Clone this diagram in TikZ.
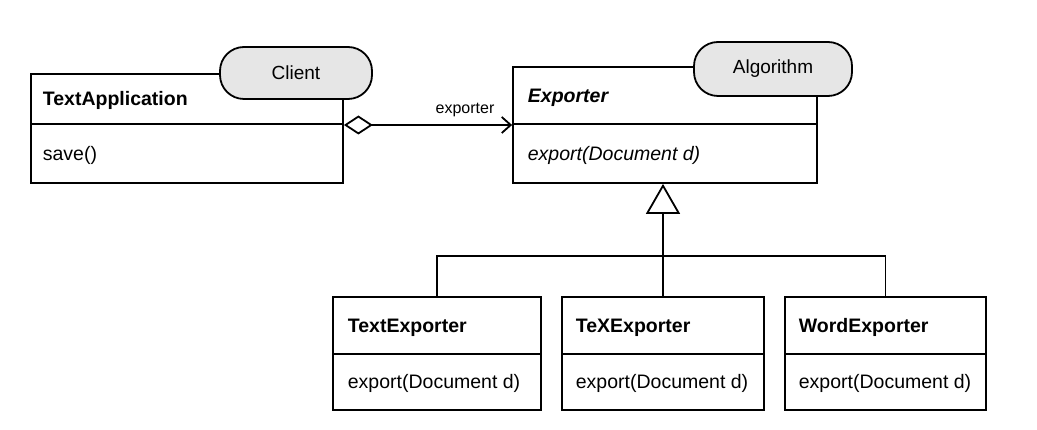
\documentclass[tikz,border=0pt]{standalone}
\usepackage{fontspec}
\setmainfont{Liberation Sans}
\usetikzlibrary{arrows.meta}
\definecolor{tagfill}{HTML}{E6E6E6}
\begin{document}
\begin{tikzpicture}[x=1pt,y=-1pt, line width=1.8pt,
  box/.style={draw, rectangle, inner sep=0pt, fill=white},
  tagbox/.style={draw, fill=tagfill, rounded corners=24pt, inner sep=0pt, font=\fontsize{19}{22}\selectfont},
  cname/.style={anchor=base west, inner sep=0pt, font=\bfseries\fontsize{19.5}{23}\selectfont},
  meth/.style={anchor=base west, inner sep=0pt, font=\fontsize{19.5}{23}\selectfont},
  divider/.style={line width=1.8pt},
]
\useasboundingbox (0,0) rectangle (1037,430);

% class boxes
\node[box, minimum width=312pt, minimum height=109pt] (ta) at (187,128.5) {};
\node[box, minimum width=304pt, minimum height=116pt] (ex) at (665,125) {};
\node[box, minimum width=208pt, minimum height=113pt] (te) at (437,353.5) {};
\node[box, minimum width=202pt, minimum height=113pt] (tx) at (663,353.5) {};
\node[box, minimum width=201pt, minimum height=113pt] (we) at (885.5,353.5) {};

% dividers
\draw[divider] (ta.west |- 0,124) -- (ta.east |- 0,124);
\draw[divider] (ex.west |- 0,124) -- (ex.east |- 0,124);
\draw[divider] (te.west |- 0,354) -- (te.east |- 0,354);
\draw[divider] (tx.west |- 0,354) -- (tx.east |- 0,354);
\draw[divider] (we.west |- 0,354) -- (we.east |- 0,354);

% texts
\node[cname] (taN) at (42,106) {TextApplication};
\node[meth] (taM) at (42,161) {save()};
\node[cname, font=\bfseries\itshape\fontsize{19.5}{23}\selectfont] (exN) at (527,103) {Exporter};
\node[meth, font=\itshape\fontsize{19.5}{23}\selectfont] (exM) at (527,161) {export(Document d)};
\node[cname] (teN) at (347,333) {TextExporter};
\node[meth] (teM) at (347,389) {export(Document d)};
\node[cname] (txN) at (575,333) {TeXExporter};
\node[meth] (txM) at (575,389) {export(Document d)};
\node[cname] (weN) at (798,333) {WordExporter};
\node[meth] (weM) at (798,389) {export(Document d)};

% stereotype tags
\node[tagbox, minimum width=152pt, minimum height=52pt] (client) at (296,73) {Client};
\node[tagbox, minimum width=158pt, minimum height=54pt] (algo) at (773,69) {Algorithm};

% aggregation
\draw[{Diamond[open,length=29pt,width=19pt,line width=1.8pt]}-{Straight Barb[length=9pt,width=16pt,line width=1.8pt]}]
  (ta.east |- ex.west) -- node[pos=0.72, above=7pt, inner sep=0pt, font=\fontsize{16}{19}\selectfont] (lbl) {exporter} (ex.west);

% inheritance
\coordinate (j) at (663,256);
\draw[-{Triangle[open,fill=white,length=30pt,width=34pt,line width=1.8pt]}] (tx.north) -- (tx.north |- ex.south);
\draw (te.north) |- (j) -| (we.north);
\end{tikzpicture}
\end{document}
